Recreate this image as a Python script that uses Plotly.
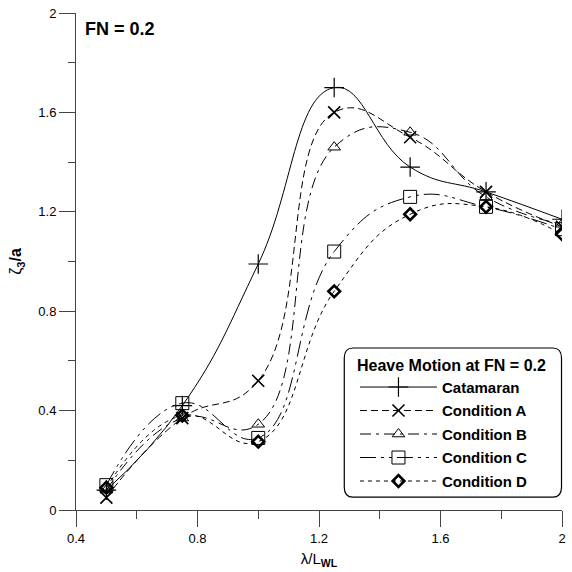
import plotly.graph_objects as go

x_vals = [0.5, 0.75, 1.0, 1.25, 1.5, 1.75, 2.0]
catamaran = [0.08, 0.42, 0.99, 1.70, 1.38, 1.28, 1.17]
cond_a = [0.05, 0.37, 0.52, 1.60, 1.50, 1.28, 1.14]
cond_b = [0.08, 0.37, 0.345, 1.46, 1.52, 1.26, 1.15]
cond_c = [0.10, 0.43, 0.29, 1.04, 1.26, 1.22, 1.13]
cond_d = [0.09, 0.38, 0.275, 0.88, 1.19, 1.22, 1.11]

names = ["Catamaran", "Condition A", "Condition B", "Condition C", "Condition D"]
series = [catamaran, cond_a, cond_b, cond_c, cond_d]
symbols = ["cross-thin", "x-thin", "triangle-up-open", "square-open", "diamond-open"]
sizes = [14, 12, 11, 13, 9]
mlw = [1.2, 1.6, 1.0, 1.0, 2.6]
dashes = ["solid", "7px,4px", "11px,5px,3px,5px", "16px,5px,3px,5px,3px,5px", "4px,4px"]

fig = go.Figure()
for nm, ys, sym, sz, lw, ds in zip(names, series, symbols, sizes, mlw, dashes):
    fig.add_trace(go.Scatter(
        x=x_vals, y=ys, name="<b>" + nm + "</b>", mode="lines+markers",
        legendgroup=nm,
        line=dict(color="black", width=1, dash=ds, shape="spline", smoothing=1.3),
        marker=dict(symbol=sym, size=sz, color="black",
                    line=dict(color="black", width=lw)),
    ))

font = "Liberation Sans, Arial, sans-serif"
fig.update_layout(
    width=572, height=572,
    margin=dict(l=76, r=6, t=13, b=62),
    paper_bgcolor="white", plot_bgcolor="white",
    font=dict(family=font, size=13, color="black"),
    showlegend=True,
    legend=dict(
        x=0.574, y=0.322, xanchor="left", yanchor="top",
        bgcolor="rgba(0,0,0,0)", borderwidth=0,
        title=dict(text="<b>Heave Motion at FN = 0.2</b>", font=dict(size=16), side="top"),
        font=dict(size=15, family=font),
        itemwidth=77, tracegroupgap=1,
    ),
    xaxis=dict(
        range=[0.4, 2.0], tickvals=[0.4, 0.8, 1.2, 1.6, 2.0],
        ticktext=["0.4", "0.8", "1.2", "1.6", "2"],
        ticks="outside", ticklen=16, tickwidth=1, tickcolor="#444",
        showline=True, linecolor="#444", linewidth=1, showgrid=False, zeroline=False,
        minor=dict(tickvals=[0.6, 1.0, 1.4, 1.8], ticks="outside", ticklen=8, tickcolor="#444"),
        title=dict(text="λ/L<b><sub>WL</sub></b>", font=dict(size=15), standoff=8),
    ),
    yaxis=dict(
        range=[0, 2.0], tickvals=[0, 0.4, 0.8, 1.2, 1.6, 2.0],
        ticktext=["0", "0.4", "0.8", "1.2", "1.6", "2"],
        ticks="outside", ticklen=16, tickwidth=1, tickcolor="#444",
        showline=True, linecolor="#444", linewidth=1, showgrid=False, zeroline=False,
        minor=dict(tickvals=[0.2, 0.6, 1.0, 1.4, 1.8], ticks="outside", ticklen=7, tickcolor="#444"),
        title=dict(text="ζ<b><sub>3</sub>/a</b>", font=dict(size=16), standoff=12),
    ),
    shapes=[dict(type="path", xref="paper", yref="paper",
                 path="M 0.57,0.326 L 0.981,0.326 Q 0.999,0.326 0.999,0.306 L 0.999,0.046 Q 0.999,0.026 0.981,0.026 L 0.57,0.026 Q 0.552,0.026 0.552,0.046 L 0.552,0.306 Q 0.552,0.326 0.57,0.326 Z",
                 line=dict(color="black", width=1.2))],
    annotations=[dict(text="<b>FN = 0.2</b>", xref="paper", yref="paper",
                      x=0.014, y=0.967, xanchor="left", yanchor="middle",
                      showarrow=False, font=dict(size=18))],
)

fig.write_html("out.html")
